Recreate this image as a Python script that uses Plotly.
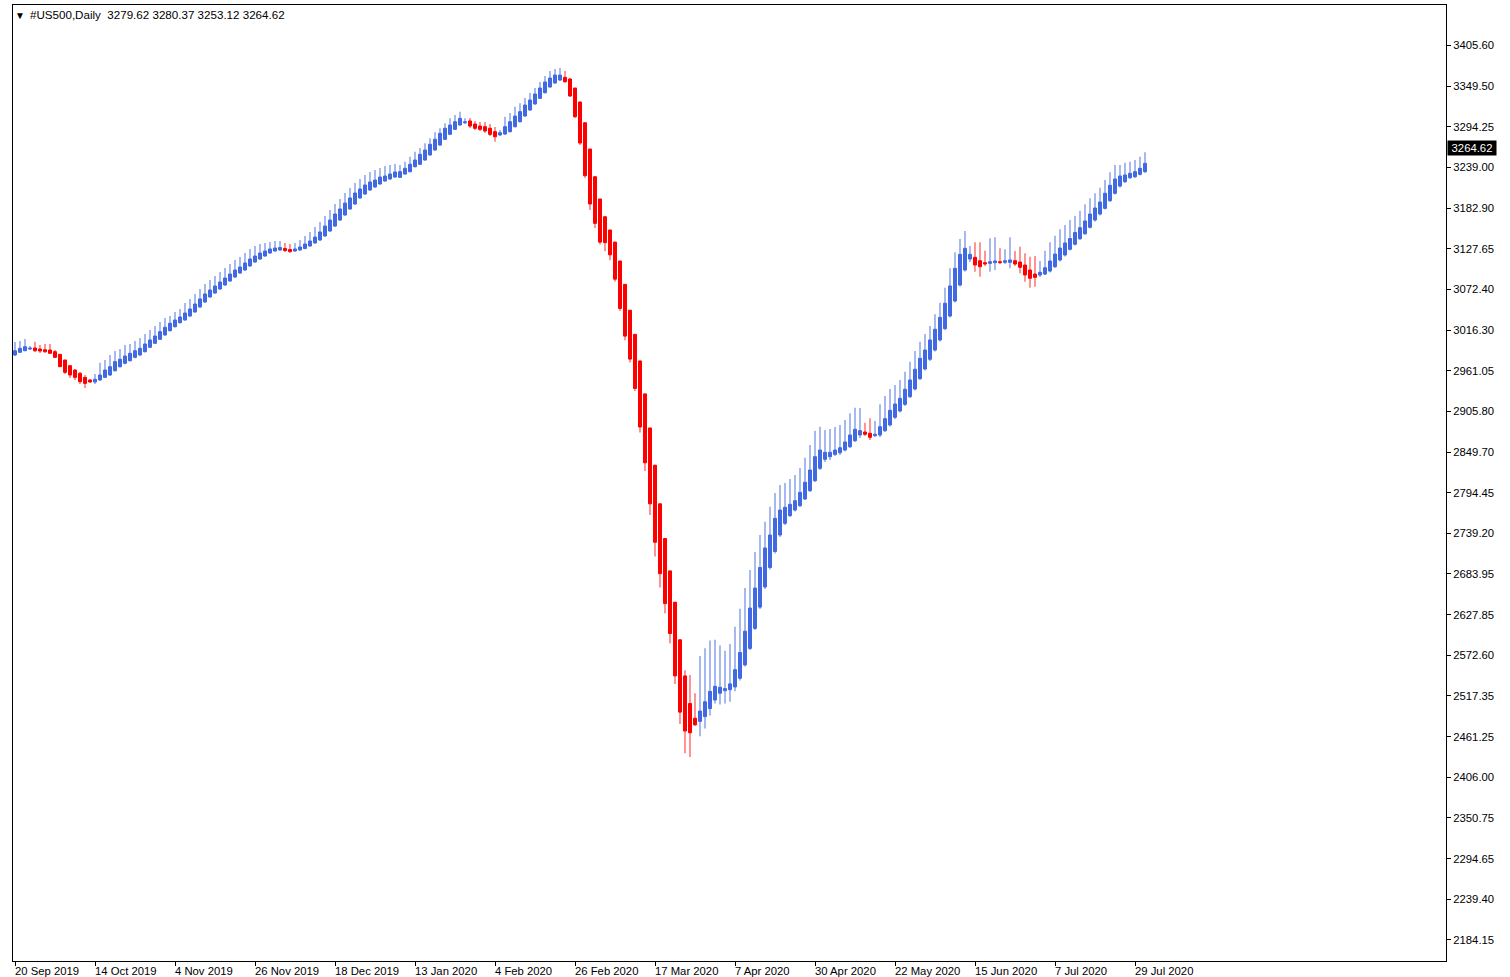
import plotly.graph_objects as go

# Smoothed (Heikin-Ashi style) daily bars, #US500, 20 Sep 2019 .. 31 Jul 2020
opens = [2982.5, 2986.2, 2988.3, 2990.7, 2992.1, 2990.7, 2989.7, 2989.3, 2987.0, 2983.4,
         2975.7, 2967.9, 2962.0, 2957.5, 2952.0, 2948.4, 2945.7, 2948.4, 2952.0, 2955.2,
         2961.0, 2966.5, 2971.2, 2974.7, 2979.3, 2982.5, 2987.0, 2993.0, 2998.5, 3003.9,
         3009.8, 3015.7, 3021.1, 3026.6, 3030.3, 3035.7, 3041.2, 3048.0, 3054.8, 3061.7,
         3067.1, 3072.6, 3078.0, 3083.5, 3088.9, 3094.4, 3098.5, 3104.0, 3109.4, 3113.5,
         3117.6, 3121.7, 3124.4, 3125.8, 3127.9, 3126.5, 3124.4, 3125.8, 3127.9, 3131.3,
         3135.4, 3139.4, 3144.9, 3151.7, 3158.5, 3166.7, 3173.6, 3181.8, 3188.6, 3196.8,
         3202.2, 3207.7, 3211.8, 3215.9, 3220.0, 3222.7, 3225.4, 3225.0, 3229.5, 3232.7,
         3239.5, 3242.8, 3248.6, 3255.5, 3262.3, 3269.1, 3276.9, 3283.7, 3290.5, 3296.4,
         3299.5, 3301.9, 3297.8, 3295.0, 3294.1, 3291.9, 3287.3, 3282.8, 3284.1, 3287.3,
         3294.1, 3300.9, 3308.7, 3316.9, 3325.1, 3332.8, 3340.5, 3348.3, 3353.7, 3357.8,
         3361.5, 3359.2, 3346.9, 3327.8, 3299.5, 3263.6, 3225.8, 3195.4, 3171.2, 3153.1,
         3136.6, 3110.8, 3078.9, 3043.6, 3010.7, 2974.4, 2929.4, 2882.9, 2832.1, 2779.4,
         2732.0, 2687.8, 2645.1, 2593.8, 2544.5, 2506.9, 2486.7, 2482.4, 2489.0, 2499.9,
         2511.6, 2520.9, 2524.3, 2525.7, 2529.4, 2541.3, 2559.5, 2582.1, 2609.4, 2638.4,
         2665.9, 2692.5, 2714.3, 2736.8, 2752.8, 2763.2, 2770.9, 2776.8, 2786.0, 2797.3,
         2810.9, 2827.9, 2840.1, 2843.7, 2846.9, 2849.1, 2852.8, 2857.3, 2865.5, 2873.3,
         2877.4, 2875.6, 2872.4, 2873.3, 2879.2, 2887.0, 2897.5, 2906.1, 2915.2, 2925.6,
         2936.1, 2950.2, 2963.4, 2976.7, 2989.3, 3003.0, 3018.4, 3035.7, 3056.2, 3078.0,
         3098.5, 3113.5, 3115.8, 3111.2, 3108.5, 3107.6, 3108.5, 3109.8, 3109.0, 3109.0,
         3111.2, 3109.4, 3105.3, 3098.5, 3093.0, 3091.7, 3093.0, 3097.1, 3103.0, 3112.2,
         3119.0, 3126.8, 3133.7, 3141.2, 3148.0, 3156.8, 3166.7, 3174.9, 3182.7, 3193.1,
         3203.2, 3213.1, 3219.0, 3224.5, 3225.8, 3229.1, 3232.7]

highs = [3000.3, 3001.6, 3004.4, 2994.8, 3000.7, 2996.2, 2997.5, 2997.5, 2989.3, 2983.9,
         2975.7, 2968.9, 2963.4, 2959.3, 2955.2, 2949.7, 2956.6, 2972.0, 2975.7, 2982.5,
         2987.9, 2990.7, 2996.2, 2997.5, 3001.6, 3005.7, 3011.2, 3016.6, 3022.1, 3027.5,
         3033.0, 3035.7, 3041.2, 3045.3, 3053.5, 3059.0, 3065.8, 3072.6, 3079.4, 3084.9,
         3090.3, 3095.8, 3101.2, 3106.7, 3112.2, 3116.2, 3121.7, 3127.2, 3131.3, 3134.0,
         3135.4, 3136.7, 3138.1, 3138.1, 3135.4, 3134.0, 3135.4, 3139.4, 3144.9, 3150.4,
         3157.2, 3164.0, 3172.2, 3180.4, 3188.6, 3195.4, 3203.6, 3210.4, 3217.2, 3222.7,
         3228.2, 3232.3, 3235.0, 3237.7, 3240.4, 3241.8, 3243.2, 3241.8, 3246.3, 3253.1,
         3259.9, 3265.0, 3271.4, 3278.2, 3286.4, 3291.9, 3298.7, 3305.5, 3310.0, 3314.6,
         3305.5, 3306.0, 3301.9, 3300.5, 3300.5, 3297.8, 3293.7, 3289.6, 3307.7, 3312.8,
         3321.4, 3326.0, 3333.3, 3340.1, 3346.9, 3355.1, 3363.3, 3370.1, 3372.8, 3374.2,
         3370.1, 3360.5, 3346.9, 3328.5, 3300.0, 3264.0, 3226.2, 3195.8, 3171.6, 3153.5,
         3137.0, 3111.2, 3079.3, 3044.0, 3011.1, 2974.8, 2929.8, 2883.3, 2832.5, 2779.8,
         2732.4, 2688.2, 2645.5, 2594.2, 2552.4, 2545.9, 2520.9, 2571.7, 2582.1, 2592.8,
         2593.8, 2585.9, 2578.8, 2588.2, 2611.7, 2636.1, 2664.4, 2689.2, 2713.6, 2736.8,
         2755.0, 2775.5, 2794.1, 2805.1, 2807.8, 2813.3, 2818.7, 2828.3, 2842.3, 2859.7,
         2879.2, 2884.6, 2880.1, 2881.5, 2884.2, 2886.9, 2893.8, 2902.9, 2910.6, 2910.2,
         2890.1, 2896.1, 2892.4, 2915.2, 2926.5, 2936.1, 2941.5, 2948.4, 2959.7, 2973.4,
         2987.9, 3000.7, 3011.2, 3022.1, 3038.0, 3053.9, 3074.4, 3100.8, 3122.7, 3140.8,
         3151.7, 3131.3, 3136.3, 3136.3, 3124.8, 3141.8, 3143.1, 3128.1, 3126.8, 3143.1,
         3124.4, 3130.3, 3121.3, 3116.7, 3117.6, 3110.8, 3124.8, 3136.3, 3145.3, 3154.1,
         3159.9, 3166.7, 3172.2, 3179.4, 3188.2, 3196.4, 3203.2, 3210.8, 3221.3, 3231.8,
         3241.8, 3241.8, 3244.9, 3246.3, 3248.6, 3253.1, 3259.2]

lows = [2981.1, 2985.2, 2987.9, 2989.3, 2986.6, 2985.2, 2985.2, 2983.9, 2978.4, 2966.1,
        2956.6, 2951.1, 2948.4, 2942.9, 2937.5, 2944.3, 2942.9, 2947.0, 2951.1, 2953.8,
        2960.0, 2965.5, 2970.0, 2973.5, 2978.2, 2981.4, 2986.0, 2992.0, 2997.5, 3002.9,
        3008.8, 3014.7, 3020.1, 3025.6, 3029.3, 3034.7, 3040.2, 3047.0, 3053.8, 3060.7,
        3066.1, 3071.6, 3077.0, 3082.5, 3087.9, 3093.4, 3097.5, 3103.0, 3108.4, 3112.5,
        3116.6, 3120.7, 3123.4, 3124.8, 3123.0, 3121.7, 3123.4, 3124.8, 3126.9, 3130.3,
        3134.4, 3138.4, 3143.9, 3150.7, 3157.5, 3165.7, 3172.6, 3180.8, 3187.6, 3195.8,
        3201.2, 3206.7, 3210.8, 3214.9, 3219.0, 3221.7, 3224.4, 3224.0, 3228.5, 3231.7,
        3238.5, 3241.8, 3247.6, 3254.5, 3261.3, 3268.1, 3275.9, 3282.7, 3289.5, 3295.4,
        3297.8, 3292.3, 3289.6, 3288.2, 3285.5, 3281.4, 3273.6, 3281.4, 3282.8, 3286.3,
        3293.1, 3299.9, 3307.7, 3315.9, 3324.1, 3331.8, 3339.5, 3347.3, 3352.7, 3356.5,
        3353.7, 3334.6, 3306.0, 3269.1, 3224.1, 3180.4, 3155.8, 3133.3, 3124.0, 3111.7,
        3082.5, 3042.5, 3002.7, 2972.1, 2933.4, 2876.7, 2824.2, 2764.0, 2707.6, 2665.3,
        2629.9, 2589.2, 2533.6, 2478.8, 2438.8, 2434.0, 2476.3, 2462.2, 2472.6, 2490.5,
        2506.9, 2505.5, 2506.9, 2509.2, 2523.4, 2538.4, 2557.4, 2579.9, 2607.2, 2635.8,
        2663.1, 2689.7, 2711.6, 2734.1, 2750.5, 2761.4, 2768.9, 2775.0, 2784.6, 2795.5,
        2809.2, 2825.5, 2836.5, 2839.2, 2844.7, 2846.0, 2850.8, 2855.6, 2863.8, 2869.2,
        2871.9, 2866.5, 2870.6, 2870.6, 2877.4, 2884.9, 2895.2, 2904.0, 2912.9, 2923.8,
        2934.0, 2948.4, 2961.3, 2974.3, 2987.3, 3000.9, 3016.6, 3033.7, 3054.1, 3076.0,
        3096.5, 3109.4, 3096.2, 3089.4, 3104.0, 3096.2, 3098.5, 3106.7, 3106.7, 3100.8,
        3104.0, 3094.0, 3082.5, 3074.4, 3075.7, 3088.9, 3091.7, 3095.1, 3101.2, 3110.1,
        3116.9, 3125.1, 3131.9, 3139.4, 3146.3, 3155.1, 3164.7, 3172.9, 3181.1, 3191.3,
        3201.5, 3211.1, 3217.2, 3222.7, 3224.1, 3227.5, 3230.9]

closes = [2988.3, 2991.6, 2993.8, 2992.1, 2988.3, 2987.9, 2987.0, 2984.8, 2979.3, 2966.5,
          2958.9, 2955.2, 2952.0, 2946.1, 2943.8, 2945.7, 2949.4, 2955.2, 2962.0, 2966.5,
          2973.4, 2976.7, 2981.1, 2984.8, 2988.3, 2991.6, 2997.5, 3003.0, 3008.4, 3014.3,
          3020.3, 3025.8, 3030.3, 3034.4, 3039.8, 3045.3, 3052.1, 3059.0, 3065.8, 3071.2,
          3076.7, 3082.1, 3087.6, 3093.0, 3098.5, 3102.6, 3108.1, 3113.5, 3117.6, 3121.7,
          3124.4, 3127.2, 3128.5, 3129.2, 3125.1, 3123.7, 3127.2, 3129.9, 3134.0, 3138.1,
          3143.5, 3150.4, 3158.5, 3166.7, 3174.9, 3181.8, 3189.9, 3196.8, 3203.6, 3209.1,
          3214.5, 3218.6, 3221.3, 3225.4, 3226.8, 3229.5, 3232.3, 3232.7, 3237.3, 3242.8,
          3248.6, 3256.4, 3262.3, 3270.1, 3276.9, 3285.1, 3291.9, 3296.4, 3300.9, 3305.5,
          3300.9, 3295.0, 3291.9, 3290.5, 3288.2, 3283.7, 3280.4, 3285.9, 3294.1, 3300.9,
          3308.7, 3314.6, 3323.7, 3330.5, 3338.7, 3346.9, 3355.1, 3360.5, 3364.6, 3364.6,
          3355.5, 3336.0, 3307.7, 3271.8, 3227.2, 3188.6, 3162.2, 3136.6, 3135.8, 3119.2,
          3086.0, 3046.0, 3008.3, 2976.9, 2936.9, 2884.2, 2835.4, 2779.4, 2726.9, 2684.0,
          2643.2, 2602.3, 2544.5, 2495.1, 2469.3, 2466.9, 2477.8, 2496.5, 2509.2, 2523.4,
          2530.3, 2529.0, 2527.1, 2533.6, 2553.0, 2576.5, 2605.5, 2637.1, 2664.4, 2692.5,
          2719.1, 2736.8, 2759.6, 2770.9, 2774.6, 2778.7, 2783.6, 2795.1, 2808.8, 2825.5,
          2843.7, 2852.8, 2849.7, 2849.7, 2852.8, 2855.9, 2863.8, 2873.3, 2881.1, 2879.2,
          2874.3, 2870.2, 2874.3, 2884.6, 2895.6, 2907.0, 2915.6, 2923.4, 2935.7, 2948.4,
          2963.0, 2978.0, 2989.3, 3003.0, 3017.6, 3033.9, 3053.1, 3076.7, 3100.8, 3119.9,
          3128.1, 3119.9, 3105.3, 3103.0, 3106.7, 3109.8, 3110.8, 3108.5, 3111.2, 3112.2,
          3106.7, 3102.2, 3091.7, 3087.2, 3088.5, 3095.4, 3101.6, 3110.8, 3120.3, 3128.5,
          3135.4, 3141.5, 3149.7, 3156.2, 3165.4, 3174.9, 3183.1, 3191.3, 3203.2, 3214.1,
          3222.7, 3226.8, 3228.2, 3230.5, 3232.7, 3237.3, 3244.1]

tick_bars = [0, 16, 32, 48, 64, 80, 96, 112, 128, 144, 160, 176, 192, 208, 224]
tick_labels = ["20 Sep 2019", "14 Oct 2019", "4 Nov 2019", "26 Nov 2019", "18 Dec 2019",
               "13 Jan 2020", "4 Feb 2020", "26 Feb 2020", "17 Mar 2020", "7 Apr 2020",
               "30 Apr 2020", "22 May 2020", "15 Jun 2020", "7 Jul 2020", "29 Jul 2020"]

price_ticks = [3405.60, 3349.50, 3294.25, 3239.00, 3182.90, 3127.65, 3072.40, 3016.30,
               2961.05, 2905.80, 2849.70, 2794.45, 2739.20, 2683.95, 2627.85, 2572.60,
               2517.35, 2461.25, 2406.00, 2350.75, 2294.65, 2239.40, 2184.15]

symbol_title = "#US500,Daily"
last_ohlc = [3279.62, 3280.37, 3253.12, 3264.62]

BLUE = "#4169E1"
RED = "#FF0000"
BLUE_WICK = "rgba(65,105,225,0.72)"
RED_WICK = "rgba(255,0,0,0.65)"
FONT = "Liberation Sans, Arial, sans-serif"

idx = list(range(len(closes)))
up = [i for i in idx if closes[i] >= opens[i]]
dn = [i for i in idx if closes[i] < opens[i]]

fig = go.Figure()


def add_wicks(sel, wick_col):
    fig.add_trace(go.Bar(
        x=sel,
        base=[lows[i] for i in sel],
        y=[highs[i] - lows[i] for i in sel],
        width=0.26, marker=dict(color=wick_col, line=dict(width=0)),
        hoverinfo="skip", showlegend=False))


def add_bodies(sel, body_col):
    fig.add_trace(go.Bar(
        x=sel,
        base=[min(opens[i], closes[i]) for i in sel],
        y=[abs(closes[i] - opens[i]) for i in sel],
        width=0.6, marker=dict(color=body_col, line=dict(color=body_col, width=1)),
        hoverinfo="skip", showlegend=False))


add_wicks(up, BLUE_WICK)
add_wicks(dn, RED_WICK)
add_bodies(up, BLUE)
add_bodies(dn, RED)

annotations = []
for b, lab in zip(tick_bars, tick_labels):
    annotations.append(dict(x=b, y=0, xref="x", yref="paper", text=lab,
                            xanchor="left", yanchor="top", showarrow=False,
                            xshift=-2, yshift=-2,
                            font=dict(family=FONT, size=11.3, color="#000000")))

annotations.append(dict(x=0, y=1, xref="paper", yref="paper",
                        text="\u25BC", xanchor="left", yanchor="top",
                        showarrow=False, xshift=0, yshift=-3,
                        font=dict(family=FONT, size=10, color="#000000")))
annotations.append(dict(x=0, y=1, xref="paper", yref="paper",
                        text=symbol_title + "  " + " ".join(f"{v:.2f}" for v in last_ohlc),
                        xanchor="left", yanchor="top", showarrow=False,
                        xshift=15, yshift=-1,
                        font=dict(family=FONT, size=11.6, color="#000000")))
annotations.append(dict(x=1, y=last_ohlc[3], xref="paper", yref="y",
                        text=f"{last_ohlc[3]:.2f}", xanchor="left", yanchor="middle",
                        showarrow=False, xshift=1, bgcolor="#000000",
                        borderpad=1, width=46, align="center",
                        font=dict(family=FONT, size=11.3, color="#FFFFFF")))

fig.update_layout(
    width=1510, height=977,
    margin=dict(l=13, r=64, t=5, b=16),
    paper_bgcolor="#FFFFFF", plot_bgcolor="#FFFFFF",
    barmode="overlay", showlegend=False,
    annotations=annotations,
    xaxis=dict(range=[-0.4, 286.2], showgrid=False, zeroline=False,
               showline=True, mirror=True, linecolor="#000000", linewidth=1,
               ticks="outside", tickvals=tick_bars, ticklen=4, tickcolor="#000000",
               showticklabels=False, fixedrange=True),
    yaxis=dict(range=[2155.4, 3460.2], side="right", showgrid=False, zeroline=False,
               showline=True, mirror=True, linecolor="#000000", linewidth=1,
               ticks="outside", ticklen=4, tickcolor="#000000",
               tickvals=price_ticks, ticktext=[f"{v:.2f}" for v in price_ticks],
               tickfont=dict(family=FONT, size=11.3, color="#000000"),
               fixedrange=True),
)

fig.write_html("out.html", config={"displayModeBar": False},
               post_script="document.body.style.margin='0';document.body.style.overflow='hidden';")
